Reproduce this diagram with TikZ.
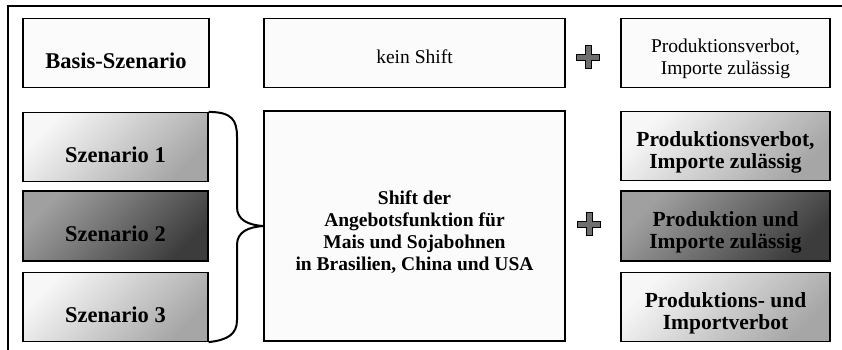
\documentclass[tikz,border=0pt]{standalone}
\usepackage{fontspec}
\setmainfont{Liberation Serif}
\usetikzlibrary{calc}
\definecolor{lgA}{HTML}{F7F7F7}
\definecolor{lgB}{HTML}{A6A6A6}
\definecolor{dgA}{HTML}{A0A0A0}
\definecolor{dgB}{HTML}{3C3C3C}
\definecolor{wbox}{HTML}{FBFBFB}
\definecolor{plusgray}{HTML}{6E6E6E}
\tikzset{
  box/.style={draw=black, line width=1.2pt, inner sep=0pt, anchor=center},
  plainbox/.style={box, fill=wbox},
  lightbox/.style={box, shading=axis, top color=lgA, bottom color=lgB, shading angle=45},
  darkbox/.style={box, shading=axis, top color=dgA, bottom color=dgB, shading angle=45},
  leftw/.style={minimum width=185pt, minimum height=69pt},
  midw/.style={minimum width=301pt, minimum height=69pt},
  rightw/.style={minimum width=209pt, minimum height=69pt},
  txt/.style={align=center, inner sep=0pt, anchor=center},
  bigfont/.style={txt, yshift=-8pt, font=\fontsize{22.5}{26}\selectfont\bfseries},
  rbfont/.style={txt, yshift=-6pt, font=\fontsize{21.5}{22}\selectfont\bfseries},
  midfont/.style={txt, yshift=-6pt, font=\fontsize{19.5}{22}\selectfont\bfseries},
  regfont/.style={txt, yshift=-6pt, font=\fontsize{19.5}{22}\selectfont},
  bracepath/.style={draw=black, line width=2pt},
  frameline/.style={draw=black, line width=2pt},
  plussign/.style={fill=plusgray, draw=black, line width=1pt}
}
\begin{document}
\begin{tikzpicture}[x=1pt,y=-1pt]
\useasboundingbox (0,0) rectangle (842,349);
\coordinate (fbl) at (8,352);
\coordinate (ftl) at (8,6);
\coordinate (ftr) at (845,6);
\draw[frameline] (fbl) -- (ftl) -- (ftr);

\node[plainbox, leftw, minimum width=186pt, label={[bigfont]center:Basis-Szenario}] (basis) at (116,53) {};
\node[plainbox, midw, label={[regfont, yshift=2pt]center:kein Shift}] (kein) at (414.5,53) {};
\node[plainbox, rightw, label={[regfont]center:{Produktionsverbot,\\Importe zulässig}}] (r0) at (725.5,53) {};

\node[lightbox, leftw, label={[bigfont]center:Szenario 1}] (s1) at (115.5,147) {};
\node[darkbox, leftw, minimum height=70pt, label={[bigfont]center:Szenario 2}] (s2) at (115.5,226) {};
\node[lightbox, leftw, label={[bigfont]center:Szenario 3}] (s3) at (115.5,307) {};

\node[plainbox, minimum width=301pt, minimum height=230pt,
  label={[midfont]center:{Shift der\\Angebotsfunktion für\\Mais und Sojabohnen\\in Brasilien, China und USA}}] (mid) at (414.5,226) {};

\node[lightbox, rightw, label={[rbfont]center:{Produktionsverbot,\\Importe zulässig}}] (r1) at (725.5,146) {};
\node[darkbox, rightw, minimum height=70pt, label={[rbfont]center:{Produktion und\\Importe zulässig}}] (r2) at (725.5,226) {};
\node[lightbox, rightw, label={[rbfont]center:{Produktions- und\\Importverbot}}] (r3) at (725.5,307) {};

% brace
\draw[bracepath] (s1.north east) .. controls (232,112) and (237,120) .. (237,137)
  -- (237,207) .. controls (237,220) and (248,225) .. (mid.west)
  .. controls (248,227) and (237,232) .. (237,245)
  -- (237,320) .. controls (237,334) and (228,340) .. (s3.south east);

% plus signs
\foreach \n/\cx/\cy in {p1/588/57, p2/589/224}{
  \coordinate (\n) at (\cx,\cy);
  \draw[plussign] ($(\n)+(-11.5,-3)$) -- ++(8.5,0) -- ++(0,-8.5) -- ++(6,0) -- ++(0,8.5)
    -- ++(8.5,0) -- ++(0,6) -- ++(-8.5,0) -- ++(0,8.5) -- ++(-6,0) -- ++(0,-8.5)
    -- ++(-8.5,0) -- cycle;
}
\end{tikzpicture}
\end{document}
